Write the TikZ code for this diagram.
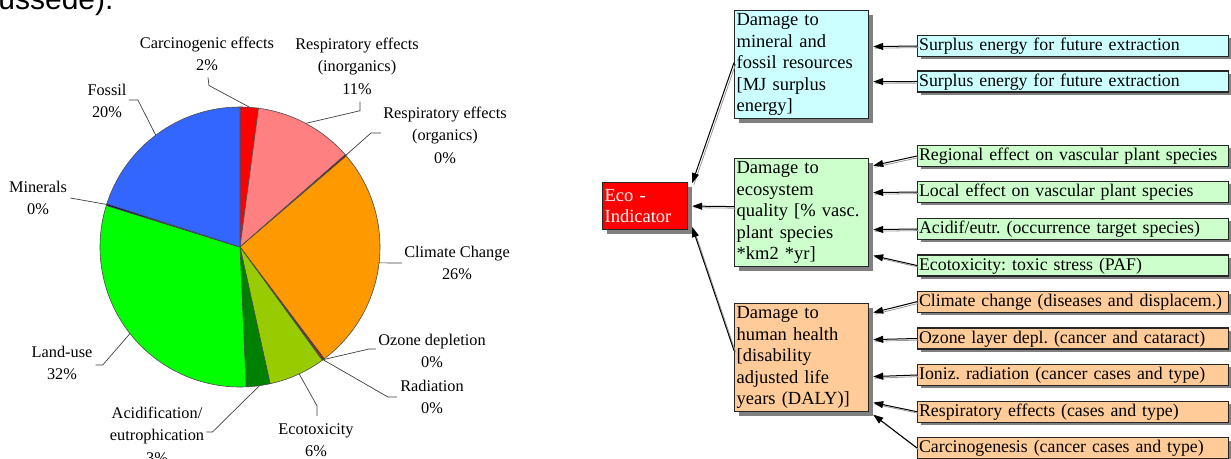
\documentclass[tikz,border=0pt]{standalone}
\usepackage{fontspec}
\setmainfont{Liberation Serif}
\newfontfamily\capfont{Liberation Sans}
\usetikzlibrary{arrows.meta, shadows}
\definecolor{carcred}{HTML}{FF0000}
\definecolor{inorgpink}{HTML}{FF8080}
\definecolor{orgred}{HTML}{990000}
\definecolor{climorange}{HTML}{FF9900}
\definecolor{ozred}{HTML}{E00000}
\definecolor{radred}{HTML}{800000}
\definecolor{ecoyellow}{HTML}{99CC00}
\definecolor{aciddark}{HTML}{008000}
\definecolor{landgreen}{HTML}{00FF00}
\definecolor{minnavy}{HTML}{000080}
\definecolor{fossblue}{HTML}{3366FF}
\definecolor{resblue}{HTML}{CCFFFF}
\definecolor{ecogreen}{HTML}{CCFFCC}
\definecolor{hhorange}{HTML}{FFCC99}
\tikzset{slicelab/.style={align=center, inner sep=0pt, font=\fontsize{8.15}{11.25}\selectfont}}
\tikzset{leader/.style={draw=black!75, line width=0.35pt}}
\tikzset{boxshadow/.style={drop shadow={shadow xshift=#1, shadow yshift=-#1, fill=black!50, opacity=1}}}
\tikzset{dmg/.style={draw=black!85, line width=0.6pt, anchor=north west, text width=65pt, minimum height=54pt, inner sep=1pt, align=left, font=\fontsize{9.25}{10.75}\selectfont, boxshadow=2pt}}
\tikzset{ecobox/.style={draw=black!85, line width=0.6pt, fill=carcred, text=white, anchor=north west, text width=40.5pt, minimum height=23.5pt, inner sep=1pt, align=left, font=\fontsize{9.25}{10.75}\selectfont, boxshadow=2pt}}
\tikzset{leaf/.style={draw=black!85, line width=0.6pt, anchor=west, text width=154pt, align=left, minimum height=10.5pt, inner xsep=0.75pt, inner ysep=0pt, text height=6.7pt, text depth=2pt, font=\fontsize{8.9}{10.5}\selectfont\frenchspacing, boxshadow=1.5pt}}
\tikzset{feed/.style={draw=black, line width=0.5pt, -{Triangle[length=5pt, width=3.5pt]}, preaction={draw=black!40, -, transform canvas={shift={(0.8pt,-0.8pt)}}}}}

\begin{document}
\begin{tikzpicture}[x=0.5pt, y=0.5pt]
  \useasboundingbox (0,0) rectangle (1231,-459);
  \clip (0,0) rectangle (1231,-459);
  \fill[white] (0,0) rectangle (1231,-459);

  % cut-off line of the text above
  \node[anchor=base west, inner sep=0pt, font=\capfont\fontsize{15}{18}\selectfont] (capt) at (-2,-10) {ussede).};

  % pie chart
  \coordinate (pie) at (240,-247);
  \foreach \from/\to/\col in {90/82.4/carcred, 82.4/41.2/inorgpink, 41.2/40.6/orgred,
      40.6/-53.0/climorange, -53.0/-53.6/ozred, -53.6/-54.0/radred, -54.0/-77.6/ecoyellow,
      -77.6/-87.5/aciddark, -87.5/-197.3/landgreen, -197.3/-198.0/minnavy, -198.0/-270/fossblue}
    \filldraw[fill=\col, draw=black!70, line width=0.3pt] (pie) -- ([shift={(\from:140)}]pie)
      arc[start angle=\from, end angle=\to, radius=140] -- cycle;

  \coordinate (rcarc) at ([shift={(86:140)}]pie);
  \coordinate (rinorg) at ([shift={(62:140)}]pie);
  \coordinate (rorg) at ([shift={(40.9:140)}]pie);
  \coordinate (rclim) at ([shift={(-6.5:140)}]pie);
  \coordinate (roz) at ([shift={(-53.6:140)}]pie);
  \coordinate (reco) at ([shift={(-65:140)}]pie);
  \coordinate (racid) at ([shift={(-82:140)}]pie);
  \coordinate (rland) at ([shift={(-141.8:140)}]pie);
  \coordinate (rmin) at ([shift={(162.3:140)}]pie);
  \coordinate (rfoss) at ([shift={(127:140)}]pie);

  \node[slicelab] (lcarc) at (207,-54) {Carcinogenic effects\\2\%};
  \node[slicelab] (linorg) at (357,-66) {Respiratory effects\\(inorganics)\\11\%};
  \node[slicelab] (lorg) at (445,-135) {Respiratory effects\\(organics)\\0\%};
  \node[slicelab] (lclim) at (457,-263) {Climate Change\\26\%};
  \node[slicelab] (loz) at (432,-351) {Ozone depletion\\0\%};
  \node[slicelab] (lrad) at (432,-397) {Radiation\\0\%};
  \node[slicelab] (leco) at (316,-440) {Ecotoxicity\\6\%};
  \node[slicelab] (lacid) at (157,-435) {Acidification/\\eutrophication\\3\%};
  \node[slicelab] (lland) at (62,-363) {Land-use\\32\%};
  \node[slicelab] (lmin) at (38,-198) {Minerals\\0\%};
  \node[slicelab] (lfoss) at (107,-101) {Fossil\\20\%};

  \draw[leader] ([shift={(1,-6)}]lcarc.south) -- ++(1,-8) -- (rcarc);
  \draw[leader] ([shift={(3,-7)}]linorg.south) -- ++(0,-9) -- (rinorg);
  \draw[leader] ([shift={(-2,2)}]lorg.west) -- ++(-10,0) -- (rorg);
  \draw[leader] ([shift={(-2,0)}]lclim.west) -- (rclim);
  \draw[leader] ([shift={(-2,2)}]loz.west) -- ++(-7,0) -- (roz);
  \draw[leader] ([shift={(-3,0)}]lrad.west) -- ++(-9,0) -- (roz);
  \draw[leader] ([shift={(1,7)}]leco.north) -- ++(0,10) -- (reco);
  \draw[leader] ([shift={(2,3)}]lacid.east) -- ++(6,0) -- (racid);
  \draw[leader] ([shift={(3,-2)}]lland.east) -- ++(7,0) -- (rland);
  \draw[leader] ([shift={(3,0)}]lmin.east) -- (rmin);
  \draw[leader] ([shift={(2,1)}]lfoss.east) -- ++(9,0) -- (rfoss);

  % damage categories
  \node[ecobox] (eco) at (602,-182) {Eco -\\Indicator};
  \node[dmg, fill=resblue] (res) at (734,-10) {Damage to\\mineral and\\fossil resources\\{}[MJ surplus\\energy]};
  \node[dmg, fill=ecogreen] (eqs) at (734,-158) {Damage to\\ecosystem\\quality [\% vasc.\\plant species\\{}*km2 *yr]};
  \node[dmg, fill=hhorange] (hh) at (734,-303) {Damage to\\human health\\{}[disability\\adjusted life\\years (DALY)]};

  % impact categories
  \node[leaf, fill=resblue] (s1) at (917,-46) {Surplus energy for future extraction};
  \node[leaf, fill=resblue] (s2) at (917,-81.5) {Surplus energy for future extraction};
  \node[leaf, fill=ecogreen] (g1) at (917,-156) {Regional effect on vascular plant species};
  \node[leaf, fill=ecogreen] (g2) at (917,-192) {Local effect on vascular plant species};
  \node[leaf, fill=ecogreen] (g3) at (917,-229) {Acidif/eutr. (occurrence target species)};
  \node[leaf, fill=ecogreen] (g4) at (917,-265.5) {Ecotoxicity: toxic stress (PAF)};
  \node[leaf, fill=hhorange] (h1) at (917,-301.7) {Climate change (diseases and displacem.)};
  \node[leaf, fill=hhorange] (h2) at (917,-338.5) {Ozone layer depl. (cancer and cataract)};
  \node[leaf, fill=hhorange] (h3) at (917,-375) {Ioniz. radiation (cancer cases and type)};
  \node[leaf, fill=hhorange] (h4) at (917,-411.7) {Respiratory effects (cases and type)};
  \node[leaf, fill=hhorange] (h5) at (917,-448) {Carcinogenesis (cancer cases and type)};

  \draw[feed] (s1.west) -- ([shift={(4,18)}]res.east);
  \draw[feed] (s2.west) -- ([shift={(4,-17)}]res.east);
  \draw[feed] (g1.west) -- ([shift={(4,47)}]eqs.east);
  \draw[feed] (g2.west) -- ([shift={(4,20)}]eqs.east);
  \draw[feed] (g3.west) -- ([shift={(4,-17)}]eqs.east);
  \draw[feed] (g4.west) -- ([shift={(4,-43)}]eqs.east);
  \draw[feed] (h1.west) -- ([shift={(4,45)}]hh.east);
  \draw[feed] (h2.west) -- ([shift={(4,18)}]hh.east);
  \draw[feed] (h3.west) -- ([shift={(4,-19)}]hh.east);
  \draw[feed] (h4.west) -- ([shift={(4,-45)}]hh.east);
  \draw[feed] (h5.west) -- ([shift={(4,-57)}]hh.east);

  \draw[feed] ([shift={(0,2)}]res.west) -- ([shift={(4,23)}]eco.east);
  \draw[feed] ([shift={(0,6)}]eqs.west) -- ([shift={(4,0)}]eco.east);
  \draw[feed] ([shift={(0,7)}]hh.west) -- ([shift={(4,-21)}]eco.east);
\end{tikzpicture}
\end{document}
